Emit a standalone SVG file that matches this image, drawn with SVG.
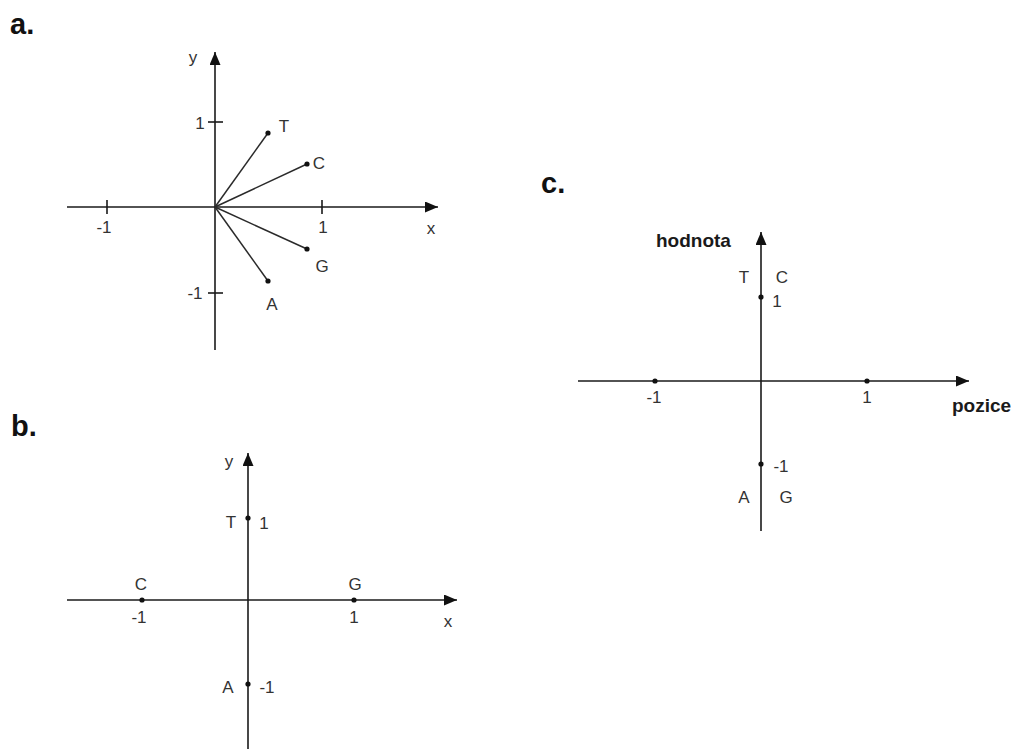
<svg xmlns="http://www.w3.org/2000/svg" width="1013" height="749" viewBox="0 0 1013 749">
<defs>
<marker id="arr" markerUnits="userSpaceOnUse" markerWidth="14" markerHeight="12" refX="13" refY="5.5" orient="auto">
<path d="M0,0 L13,5.5 L0,11 Z" fill="#111"/>
</marker>
</defs>
<style>
.ax{stroke:#1a1a1a;stroke-width:1.6;fill:none}
.vec{stroke:#2a2a2a;stroke-width:1.5;fill:none}
.tk{stroke:#1a1a1a;stroke-width:1.6}
.dot{fill:#111}
.t{font-family:"Liberation Sans",Arial,sans-serif;font-size:17px;fill:#333;text-anchor:middle}
.ttl{font-family:"Liberation Sans",Arial,sans-serif;font-size:29px;font-weight:bold;fill:#111}
.ax-lbl{font-family:"Liberation Sans",Arial,sans-serif;font-size:19px;font-weight:bold;fill:#1a1a1a}
</style>
<rect width="1013" height="749" fill="#fff"/>

<!-- Panel a -->
<g id="panel-a">
<text class="ttl" x="10" y="34">a.</text>
<g id="a-connectors">
<line class="ax" x1="215" y1="350" x2="215" y2="52" marker-end="url(#arr)"/>
<line class="ax" x1="67" y1="207" x2="438" y2="207" marker-end="url(#arr)"/>
<line class="tk" x1="107" y1="200" x2="107" y2="214"/>
<line class="tk" x1="322" y1="200" x2="322" y2="214"/>
<line class="tk" x1="208" y1="122" x2="223" y2="122"/>
<line class="tk" x1="208" y1="293" x2="223" y2="293"/>
<line class="vec" x1="215" y1="207" x2="268" y2="133"/>
<line class="vec" x1="215" y1="207" x2="307" y2="164"/>
<line class="vec" x1="215" y1="207" x2="307" y2="249"/>
<line class="vec" x1="215" y1="207" x2="268" y2="281"/>
</g>
<text class="t" x="193" y="63">y</text>
<text class="t" x="431" y="234">x</text>
<text class="t" x="200" y="129">1</text>
<text class="t" x="195" y="299">-1</text>
<text class="t" x="104" y="233">-1</text>
<text class="t" x="323" y="233">1</text>
<g id="a-T"><circle class="dot" cx="268" cy="133" r="2.6"/><text class="t" x="284" y="132">T</text></g>
<g id="a-C"><circle class="dot" cx="307" cy="164" r="2.6"/><text class="t" x="319" y="169">C</text></g>
<g id="a-G"><circle class="dot" cx="307" cy="249" r="2.6"/><text class="t" x="322" y="272">G</text></g>
<g id="a-A"><circle class="dot" cx="268" cy="281" r="2.6"/><text class="t" x="272" y="310">A</text></g>
</g>

<!-- Panel b -->
<g id="panel-b">
<text class="ttl" x="11" y="436">b.</text>
<g id="b-connectors">
<line class="ax" x1="248" y1="749" x2="248" y2="453" marker-end="url(#arr)"/>
<line class="ax" x1="67" y1="600" x2="457" y2="600" marker-end="url(#arr)"/>
</g>
<text class="t" x="229" y="467">y</text>
<text class="t" x="448" y="627">x</text>
<text class="t" x="139" y="623">-1</text>
<text class="t" x="354" y="623">1</text>
<text class="t" x="264" y="529">1</text>
<text class="t" x="267" y="693">-1</text>
<g id="b-T"><circle class="dot" cx="248" cy="518" r="2.6"/><text class="t" x="231" y="528">T</text></g>
<g id="b-C"><circle class="dot" cx="142" cy="600" r="2.6"/><text class="t" x="141" y="590">C</text></g>
<g id="b-G"><circle class="dot" cx="354" cy="600" r="2.6"/><text class="t" x="355" y="590">G</text></g>
<g id="b-A"><circle class="dot" cx="248" cy="684" r="2.6"/><text class="t" x="228" y="693">A</text></g>
</g>

<!-- Panel c -->
<g id="panel-c">
<text class="ttl" x="541" y="193">c.</text>
<g id="c-connectors">
<line class="ax" x1="761" y1="531" x2="761" y2="232" marker-end="url(#arr)"/>
<line class="ax" x1="578" y1="381" x2="969" y2="381" marker-end="url(#arr)"/>
</g>
<text class="ax-lbl" x="656" y="247">hodnota</text>
<text class="ax-lbl" x="952" y="412">pozice</text>
<g id="c-xm1"><circle class="dot" cx="655" cy="381" r="2.6"/><text class="t" x="654" y="403">-1</text></g>
<g id="c-xp1"><circle class="dot" cx="867" cy="381" r="2.6"/><text class="t" x="867" y="403">1</text></g>
<g id="c-yp1"><circle class="dot" cx="761" cy="297" r="2.6"/><text class="t" x="777" y="307">1</text></g>
<g id="c-ym1"><circle class="dot" cx="761" cy="464" r="2.6"/><text class="t" x="781" y="472">-1</text></g>
<g id="c-T"><text class="t" x="744" y="283">T</text></g>
<g id="c-C"><text class="t" x="782" y="283">C</text></g>
<g id="c-A"><text class="t" x="744" y="503">A</text></g>
<g id="c-G"><text class="t" x="786" y="503">G</text></g>
</g>
</svg>
